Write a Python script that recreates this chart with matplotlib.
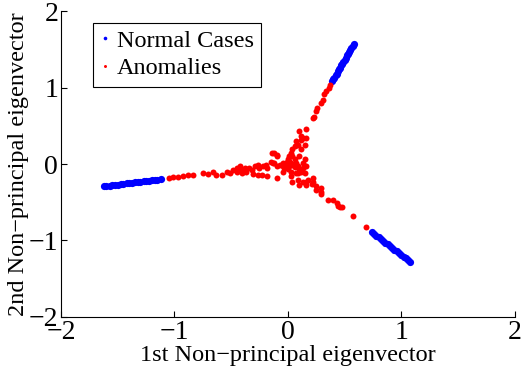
import matplotlib
matplotlib.use("Agg")
import matplotlib.pyplot as plt

# normal cases: three dense arms
normal_x = [-1.62, -1.60, -1.57, -1.55, -1.52, -1.50, -1.47, -1.45, -1.42, -1.40, -1.37,
            -1.35, -1.32, -1.30, -1.27, -1.25, -1.22, -1.20, -1.17, -1.15, -1.12,
            0.39, 0.40, 0.41, 0.42, 0.43, 0.44, 0.45, 0.46, 0.47, 0.48,
            0.49, 0.50, 0.51, 0.52, 0.53, 0.54, 0.55, 0.56, 0.57, 0.58,
            0.74, 0.76, 0.78, 0.80, 0.82, 0.84, 0.86, 0.88, 0.90,
            0.92, 0.94, 0.96, 0.98, 1.00, 1.02, 1.04, 1.06, 1.08]
normal_y = [-0.290, -0.286, -0.281, -0.277, -0.272, -0.268, -0.263, -0.259, -0.254, -0.250, -0.245,
            -0.241, -0.236, -0.232, -0.227, -0.223, -0.218, -0.214, -0.209, -0.205, -0.200,
            1.08, 1.11, 1.13, 1.16, 1.18, 1.21, 1.24, 1.26, 1.29, 1.31,
            1.34, 1.36, 1.39, 1.42, 1.44, 1.47, 1.49, 1.52, 1.54, 1.57,
            -0.89, -0.91, -0.94, -0.96, -0.98, -1.01, -1.03, -1.05, -1.07,
            -1.10, -1.12, -1.14, -1.17, -1.19, -1.21, -1.23, -1.26, -1.28]

# anomalies
anom_x = [-1.05, -1.01, -0.97, -0.92, -0.88, -0.84, -0.75, -0.70, -0.66, -0.63, -0.58,
          -0.54, -0.51, -0.48, -0.45, -0.45, -0.42, -0.41, -0.40, -0.38, -0.37, -0.34,
          -0.32, -0.31, -0.29, -0.26, -0.26, -0.25, -0.23, -0.22, -0.19, -0.18, -0.18,
          -0.15, -0.14, -0.12, -0.10, -0.12, -0.10, -0.13, -0.10, -0.07, -0.04, -0.04,
          -0.01, -0.01, 0.00, 0.01, 0.01, 0.01, 0.03, 0.03, 0.04, 0.04, 0.04, 0.06,
          0.06, 0.06, 0.07, 0.07, 0.09, 0.09, 0.10, 0.10, 0.10, 0.12, 0.12, 0.13,
          0.13, 0.13, 0.15, 0.16, 0.16, -0.03, 0.00, 0.03, 0.07, 0.12, 0.09, 0.15,
          -0.10, -0.04,
          0.03, 0.04, 0.09, 0.10, 0.13, 0.16, 0.16, 0.18, 0.21, 0.22, 0.22, 0.25,
          0.25, 0.29, 0.29, 0.29, 0.35, 0.40, 0.43, 0.44, 0.46, 0.48, 0.57, 0.69,
          0.12, 0.15, 0.16, 0.22, 0.23, 0.25, 0.26, 0.29, 0.31, 0.32, 0.34, 0.36, 0.37]
anom_y = [-0.18, -0.17, -0.17, -0.16, -0.15, -0.15, -0.12, -0.13, -0.11, -0.14, -0.14,
          -0.10, -0.12, -0.08, -0.05, -0.11, -0.03, -0.07, -0.12, -0.05, -0.10, -0.05,
          -0.08, -0.13, -0.03, -0.01, -0.15, -0.05, -0.15, -0.03, -0.01, -0.05, -0.16,
          0.03, 0.14, 0.01, 0.10, 0.14, 0.12, 0.01, -0.03, -0.01, 0.01, -0.03,
          0.03, -0.01, 0.06, 0.10, 0.04, -0.03, 0.14, 0.01, 0.19, 0.10, -0.01, 0.23,
          0.06, -0.04, 0.30, 0.01, 0.25, -0.03, 0.43, 0.10, -0.07, 0.36, 0.19, 0.34,
          0.01, -0.05, 0.06, 0.46, -0.03, -0.05, -0.07, -0.10, -0.12, -0.10, -0.12, -0.12,
          -0.18, -0.10,
          -0.16, -0.24, -0.21, -0.27, -0.23, -0.23, -0.28, -0.21, -0.26, -0.23, -0.18, -0.29,
          -0.34, -0.31, -0.36, -0.39, -0.47, -0.47, -0.51, -0.55, -0.56, -0.56, -0.68, -0.83,
          0.32, 0.25, 0.34, 0.60, 0.62, 0.69, 0.73, 0.80, 0.84, 0.91, 0.95, 0.99, 1.03]

plt.rcParams['font.family'] = ['Liberation Serif', 'DejaVu Serif']
plt.rcParams['font.size'] = 17.5

fig = plt.figure(figsize=(5.21, 3.69), dpi=100)
ax = fig.add_axes([0.117, 0.141, 0.871, 0.829])

ax.plot(normal_x, normal_y, 'o', color='#0000ff', markersize=5.2, markeredgewidth=0,
        label='Normal Cases')
ax.plot(anom_x, anom_y, 'o', color='#ff0000', markersize=4.3, markeredgewidth=0,
        label='Anomalies')

ax.set_xlim(-2, 2)
ax.set_ylim(-2, 2)
ax.set_xticks([-2, -1, 0, 1, 2])
ax.set_yticks([-2, -1, 0, 1, 2])
ax.tick_params(direction='in', length=4, width=0.8, pad=2, labelsize=20)
ax.spines['top'].set_visible(False)
ax.spines['right'].set_visible(False)

ax.set_xlabel('1st Non\u2212principal eigenvector', labelpad=0)
ax.set_ylabel('2nd Non\u2212principal eigenvector', labelpad=0)

leg = ax.legend(loc='upper left', bbox_to_anchor=(0.07, 0.962), handlelength=0.4,
                handletextpad=0.3, borderpad=0.3, labelspacing=0.22, markerscale=0.5,
                fancybox=False, framealpha=1, edgecolor='black', borderaxespad=0)
leg.get_frame().set_linewidth(0.8)

fig.savefig('out.png', dpi=100)
